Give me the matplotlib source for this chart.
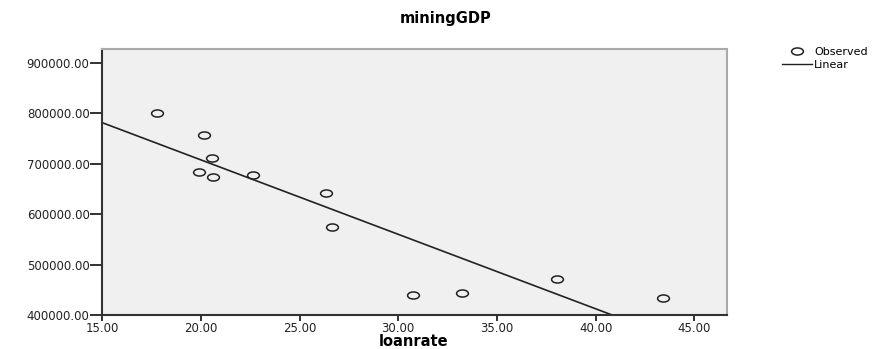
import numpy as np
import matplotlib.pyplot as plt
from matplotlib.path import Path
from matplotlib.lines import Line2D

plt.rcParams['font.family'] = ['DejaVu Sans']

# Observed data
loanrate = [17.79, 20.17, 20.59, 19.93, 20.64, 22.63, 26.33, 26.64, 30.76, 33.23, 38.06, 43.43]
mining_gdp = [801000, 756500, 712100, 684300, 673200, 677200, 642700, 574000, 439700, 444300, 470800, 434400]

x_ticks = [15, 20, 25, 30, 35, 40, 45]
y_ticks = [400000, 500000, 600000, 700000, 800000, 900000]

fig = plt.figure(figsize=(8.91, 3.49), dpi=100)
ax = fig.add_axes([0.1145, 0.0974, 0.7015, 0.7622])
ax.set_facecolor('#f0f0f0')

# flattened open-circle marker
circ = Path.unit_circle()
ell = Path(circ.vertices * np.array([1.0, 0.6]), circ.codes)

xs = np.array(loanrate)
ys = np.array(mining_gdp)
ax.plot(xs, ys, linestyle='none', marker=ell, markersize=8.5,
        markerfacecolor='none', markeredgecolor='#222222', markeredgewidth=1.1)

# least-squares linear fit
slope, intercept = np.polyfit(xs, ys, 1)
xl = np.array([15, 47])
ax.plot(xl, slope * xl + intercept, color='#222222', linewidth=1.2)

ax.set_xlim(15, 46.65)
ax.set_ylim(400000, 928000)
ax.set_xticks(x_ticks)
ax.set_xticklabels([f"{v:.2f}" for v in x_ticks])
ax.set_yticks(y_ticks)
ax.set_yticklabels([f"{v:.2f}" for v in y_ticks])
ax.tick_params(axis='both', direction='out', length=4, width=1.3, labelsize=8.5,
               colors='#222222', pad=1)
ax.tick_params(axis='y', length=9, pad=0)

for s in ['left', 'bottom']:
    ax.spines[s].set_color('#333333')
    ax.spines[s].set_linewidth(1.5)
for s in ['top', 'right']:
    ax.spines[s].set_color('#aaaaaa')
    ax.spines[s].set_linewidth(1.5)

fig.text(414 / 891, 1 - 342 / 349, 'loanrate', ha='center', va='center',
         fontsize=10.5, fontweight='bold')
fig.text(0.5, 1 - 19 / 349, 'miningGDP', ha='center', va='center',
         fontsize=10.5, fontweight='bold')

handles = [
    Line2D([], [], linestyle='none', marker=ell, markersize=8.5,
           markerfacecolor='none', markeredgecolor='#222222', markeredgewidth=1.1),
    Line2D([], [], color='#222222', linewidth=1.0),
]
fig.legend(handles, ['Observed', 'Linear'], loc='upper left',
           bbox_to_anchor=(0.878, 0.865), frameon=False, fontsize=8,
           handlelength=2.7, handletextpad=0.15, labelspacing=0.25,
           borderaxespad=0, borderpad=0)

fig.savefig('out.png', dpi=100)
